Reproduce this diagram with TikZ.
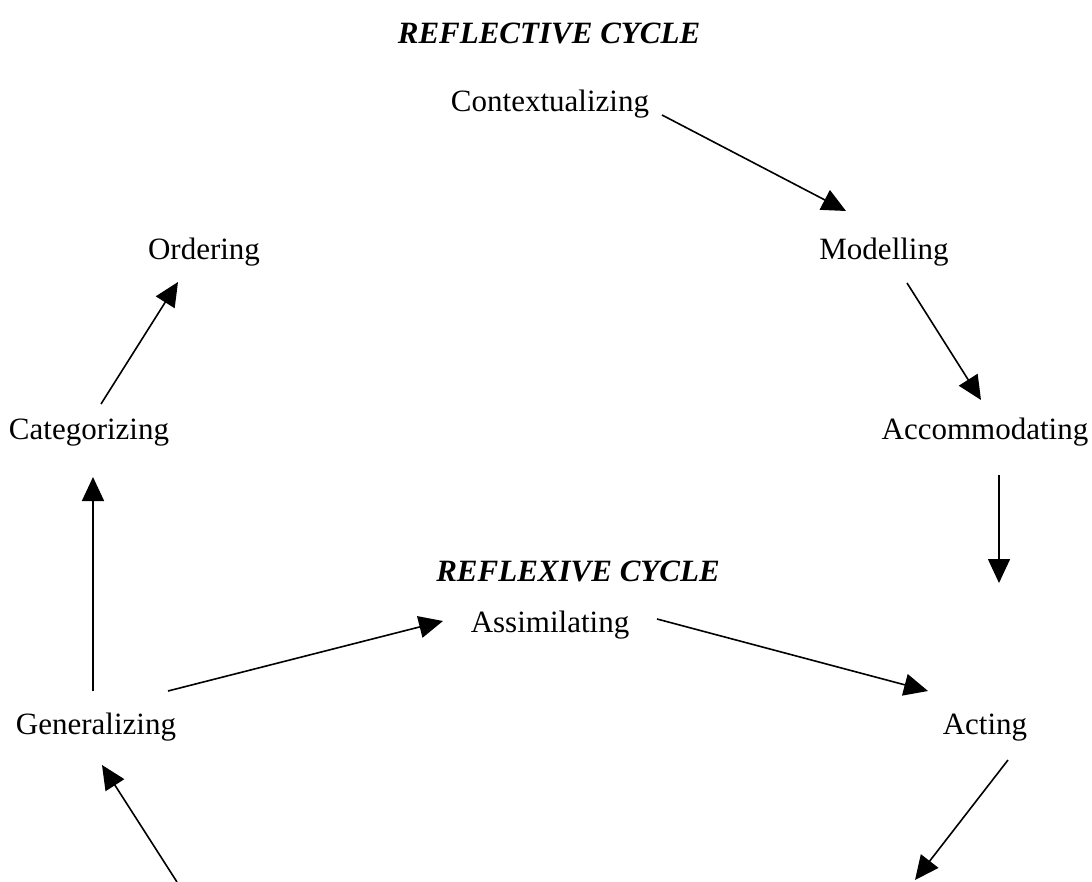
\documentclass[tikz,border=0pt]{standalone}
\usepackage{fontspec}
\setmainfont{Liberation Serif}
\usetikzlibrary{arrows.meta}
\begin{document}
\begin{tikzpicture}[x=1pt,y=-1pt,
  lbl/.style={inner sep=0pt,anchor=base,font=\fontsize{31}{36}\selectfont},
  ttl/.style={inner sep=0pt,anchor=base,font=\fontsize{31}{36}\selectfont\bfseries\itshape},
  arr/.style={line width=1.6pt,-{Triangle[length=24pt,width=22pt]}}]
\useasboundingbox[fill=white] (0,0) rectangle (1092,882);
\node[ttl] (t1) at (549,44) {REFLECTIVE CYCLE};
\node[lbl] (ctx) at (550,112) {Contextualizing};
\node[lbl] (mod) at (884,260) {Modelling};
\node[lbl] (ord) at (204,260) {Ordering};
\node[lbl] (cat) at (89,439) {Categorizing};
\node[lbl] (acc) at (985,439) {Accommodating};
\node[ttl] (t2) at (578,581) {REFLEXIVE CYCLE};
\node[lbl] (ass) at (550,632) {Assimilating};
\node[lbl] (gen) at (96,734) {Generalizing};
\node[lbl] (act) at (985,734) {Acting};
\coordinate (offR) at (915,880);
\coordinate (offL) at (177,882);
\draw[arr] ([shift={(112,3)}]ctx.base) -- ([shift={(-38,-49)}]mod.base);
\draw[arr] ([shift={(23,23)}]mod.base) -- ([shift={(-4,-39)}]acc.base);
\draw[arr] ([shift={(14,36)}]acc.base) -- ([shift={(14,-151)}]act.base);
\draw[arr] ([shift={(12,-35)}]cat.base) -- ([shift={(-26,22)}]ord.base);
\draw[arr] ([shift={(-3,-43)}]gen.base) -- ([shift={(4,38)}]cat.base);
\draw[arr] ([shift={(72,-43)}]gen.base) -- ([shift={(-107,-11)}]ass.base);
\draw[arr] ([shift={(107,-13)}]ass.base) -- ([shift={(-57,-43)}]act.base);
\draw[arr] ([shift={(23,26)}]act.base) -- (offR);
\draw[arr] (offL) -- ([shift={(6,31)}]gen.base);
\end{tikzpicture}
\end{document}
